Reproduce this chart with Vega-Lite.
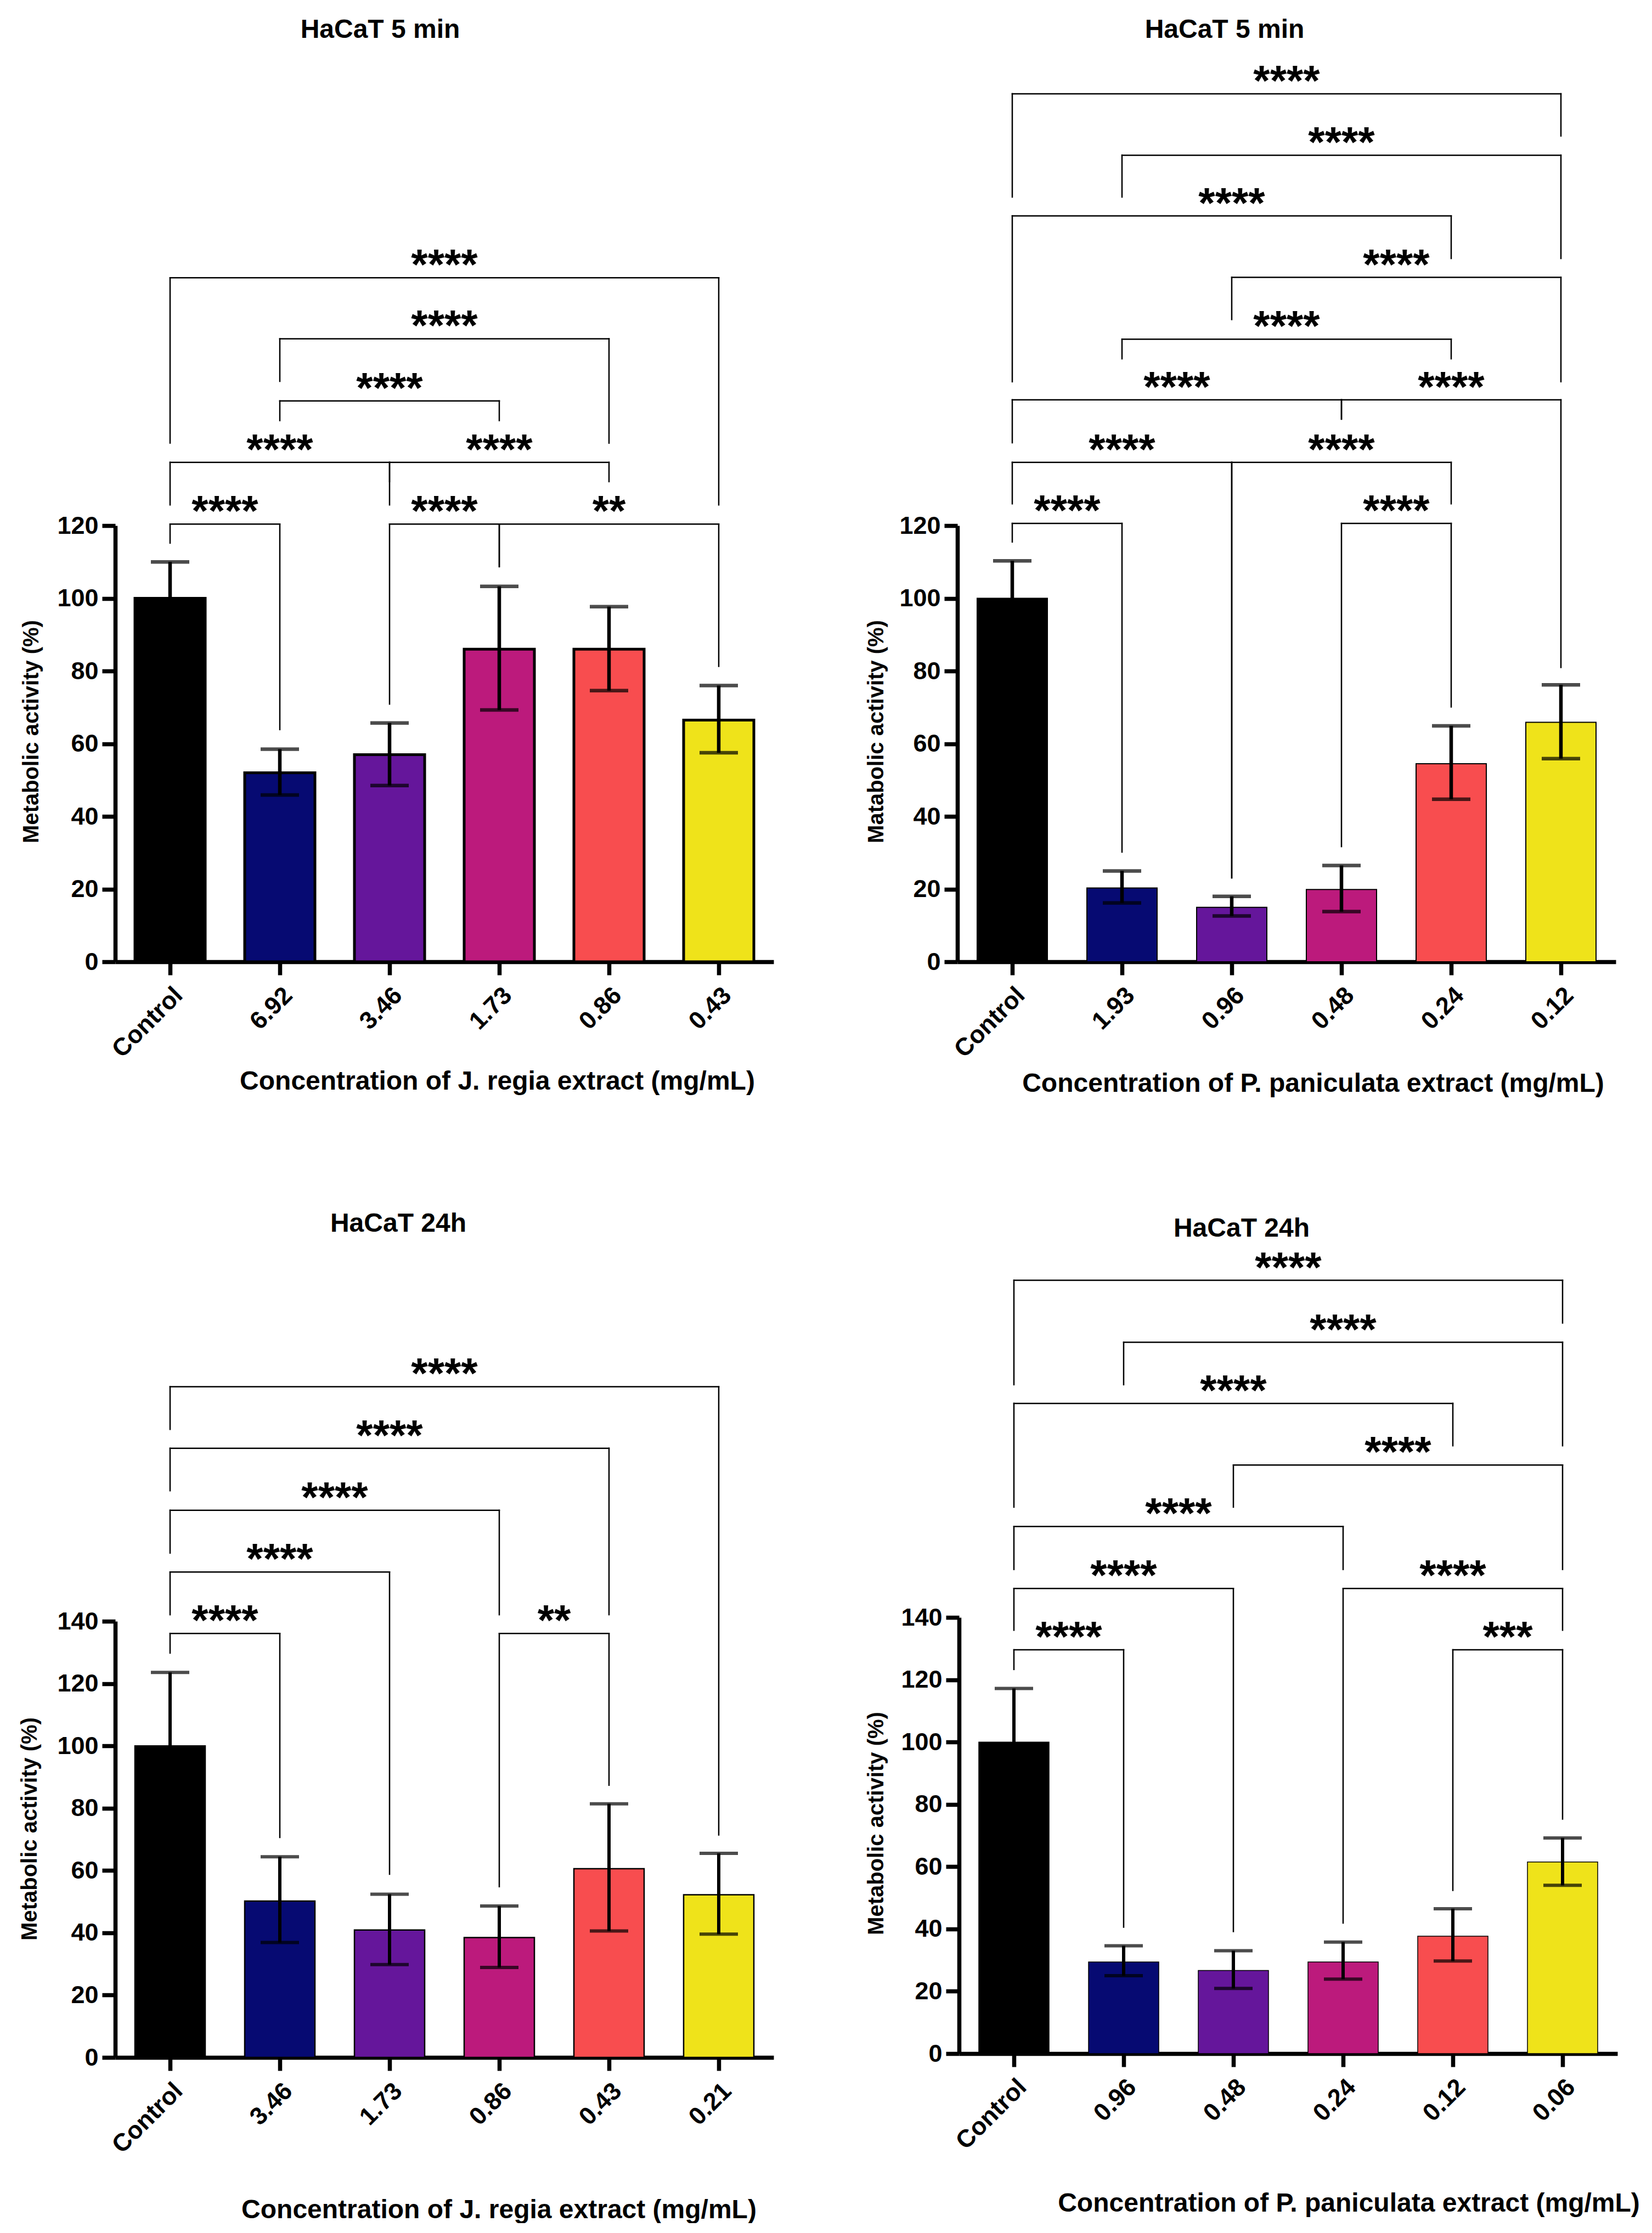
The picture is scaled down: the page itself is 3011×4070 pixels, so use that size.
{
"$schema": "https://vega.github.io/schema/vega-lite/v6.json",
"background": "white",
"padding": {"left": 34, "top": 31, "right": 0, "bottom": 0},
"spacing": 208,
"resolve": {"scale": {"color": "independent"}},
"datasets": {
"barsA": [
{"cat":"Control","mean":100,"lo":90,"hi":110},
{"cat":"6.92","mean":52,"lo":45.9,"hi":58.5},
{"cat":"3.46","mean":57,"lo":48.5,"hi":65.7},
{"cat":"1.73","mean":86,"lo":69.3,"hi":103.3},
{"cat":"0.86","mean":86,"lo":74.6,"hi":97.7},
{"cat":"0.43","mean":66.5,"lo":57.5,"hi":76}],
"brA": [
{"a":"Control","b":"0.43","mid":2.5,"lev":188.2,"aEnd":142.7,"bEnd":125.7,"lab":"****"},
{"a":"6.92","b":"0.86","mid":2.5,"lev":171.4,"aEnd":159.7,"bEnd":142.7,"lab":"****"},
{"a":"6.92","b":"1.73","mid":2,"lev":154.3,"aEnd":148.9,"bEnd":148.9,"lab":"****"},
{"a":"Control","b":"3.46","mid":1,"lev":137.4,"aEnd":125.7,"bEnd":125.7,"lab":"****"},
{"a":"3.46","b":"0.86","mid":3,"lev":137.4,"aEnd":132.1,"bEnd":132.1,"lab":"****"},
{"a":"Control","b":"6.92","mid":0.5,"lev":120.4,"aEnd":115.2,"bEnd":63.9,"lab":"****"},
{"a":"3.46","b":"1.73","mid":2.5,"lev":120.4,"aEnd":70.9,"bEnd":108.7,"lab":"****"},
{"a":"1.73","b":"0.43","mid":4,"lev":120.4,"aEnd":108.7,"bEnd":81.3,"lab":"**"}],
"barsB": [
{"cat":"Control","mean":100,"lo":89.7,"hi":110.3},
{"cat":"1.93","mean":20.3,"lo":16.2,"hi":25},
{"cat":"0.96","mean":15,"lo":12.6,"hi":18},
{"cat":"0.48","mean":19.9,"lo":13.8,"hi":26.5},
{"cat":"0.24","mean":54.5,"lo":44.7,"hi":64.9},
{"cat":"0.12","mean":65.9,"lo":55.9,"hi":76.2}],
"brB": [
{"a":"Control","b":"0.12","mid":2.5,"lev":238.8,"aEnd":210.4,"bEnd":227.2,"lab":"****"},
{"a":"1.93","b":"0.12","mid":3,"lev":221.9,"aEnd":210.4,"bEnd":193.5,"lab":"****"},
{"a":"Control","b":"0.24","mid":2,"lev":205.2,"aEnd":159.6,"bEnd":193.5,"lab":"****"},
{"a":"0.96","b":"0.12","mid":3.5,"lev":188.3,"aEnd":176.7,"bEnd":159.6,"lab":"****"},
{"a":"1.93","b":"0.24","mid":2.5,"lev":171.3,"aEnd":165.9,"bEnd":165.9,"lab":"****"},
{"a":"Control","b":"0.48","mid":1.5,"lev":154.6,"aEnd":142.8,"bEnd":149.3,"lab":"****"},
{"a":"0.48","b":"0.12","mid":4,"lev":154.6,"aEnd":149.3,"bEnd":81,"lab":"****"},
{"a":"Control","b":"0.96","mid":1,"lev":137.4,"aEnd":126,"bEnd":23.1,"lab":"****"},
{"a":"0.96","b":"0.24","mid":3,"lev":137.4,"aEnd":23.1,"bEnd":126,"lab":"****"},
{"a":"Control","b":"1.93","mid":0.5,"lev":120.6,"aEnd":115.5,"bEnd":30.2,"lab":"****"},
{"a":"0.48","b":"0.24","mid":3.5,"lev":120.6,"aEnd":31.7,"bEnd":70.1,"lab":"****"}],
"barsC": [
{"cat":"Control","mean":100,"lo":76.4,"hi":123.6},
{"cat":"3.46","mean":50.2,"lo":36.9,"hi":64.4},
{"cat":"1.73","mean":40.9,"lo":29.8,"hi":52.4},
{"cat":"0.86","mean":38.5,"lo":28.9,"hi":48.6},
{"cat":"0.43","mean":60.6,"lo":40.6,"hi":81.4},
{"cat":"0.21","mean":52.2,"lo":39.6,"hi":65.5}],
"brC": [
{"a":"Control","b":"0.21","mid":2.5,"lev":215.3,"aEnd":201.6,"bEnd":71.4,"lab":"****"},
{"a":"Control","b":"0.43","mid":2,"lev":195.5,"aEnd":181.9,"bEnd":142.1,"lab":"****"},
{"a":"Control","b":"0.86","mid":1.5,"lev":175.6,"aEnd":161.9,"bEnd":142.1,"lab":"****"},
{"a":"Control","b":"1.73","mid":1,"lev":155.8,"aEnd":142.1,"bEnd":58.8,"lab":"****"},
{"a":"Control","b":"3.46","mid":0.5,"lev":136.1,"aEnd":129.8,"bEnd":70.6,"lab":"****"},
{"a":"0.86","b":"0.43","mid":3.5,"lev":136.1,"aEnd":54.8,"bEnd":87.4,"lab":"**"}],
"barsD": [
{"cat":"Control","mean":100,"lo":82.8,"hi":117.2},
{"cat":"0.96","mean":29.4,"lo":25,"hi":34.6},
{"cat":"0.48","mean":26.7,"lo":20.9,"hi":33},
{"cat":"0.24","mean":29.4,"lo":23.9,"hi":35.8},
{"cat":"0.12","mean":37.7,"lo":29.7,"hi":46.5},
{"cat":"0.06","mean":61.5,"lo":54,"hi":69.2}],
"brD": [
{"a":"Control","b":"0.06","mid":2.5,"lev":248.2,"aEnd":214.7,"bEnd":234.5,"lab":"****"},
{"a":"0.96","b":"0.06","mid":3,"lev":228.3,"aEnd":214.7,"bEnd":195.1,"lab":"****"},
{"a":"Control","b":"0.12","mid":2,"lev":208.7,"aEnd":175.4,"bEnd":195.1,"lab":"****"},
{"a":"0.48","b":"0.06","mid":3.5,"lev":188.9,"aEnd":175.4,"bEnd":155.4,"lab":"****"},
{"a":"Control","b":"0.24","mid":1.5,"lev":169.2,"aEnd":155.4,"bEnd":155.4,"lab":"****"},
{"a":"Control","b":"0.48","mid":1,"lev":149.3,"aEnd":135.9,"bEnd":39.2,"lab":"****"},
{"a":"0.24","b":"0.06","mid":4,"lev":149.3,"aEnd":41.9,"bEnd":135.9,"lab":"****"},
{"a":"Control","b":"0.96","mid":0.5,"lev":129.6,"aEnd":123.3,"bEnd":40.6,"lab":"****"},
{"a":"0.12","b":"0.06","mid":4.5,"lev":129.6,"aEnd":52.4,"bEnd":75.3,"lab":"***"}]
},
"vconcat": [
{"spacing": 167, "resolve": {"scale": {"color": "independent"}}, "hconcat": [
{
"width": 1200, "height": 1652,
"title": {"text": "HaCaT   5 min", "offset": -2, "dx": -117, "frame": "group", "anchor": "middle", "baseline": "middle"},
"resolve": {"scale": {"x": "independent"}},
"layer": [
{"layer": [
{"data": {"name": "barsA"}, "mark": {"type": "bar", "stroke": "black", "strokeWidth": 5},
"encoding": {
"x": {"field": "cat", "type": "nominal", "scale": {"domain": ["Control","6.92","3.46","1.73","0.86","0.43"], "paddingInner": 0.36, "paddingOuter": 0.18},
"axis": {"title": "Concentration of J. regia extract (mg/mL)", "labelAngle": -45, "labelPadding": 14, "labelOverlap": false, "titleX": 696, "titleY": 232, "titleBaseline": "alphabetic", "titleFontSize": 48}},
"y": {"field": "mean", "type": "quantitative", "scale": {"domain": [0,120], "range": [1652,857], "nice": false},
"axis": {"title": "Metabolic activity (%)", "values": [0,20,40,60,80,100,120], "labelPadding": 7, "titleX": -153, "titleY": 1232, "titleBaseline": "middle", "titleAngle": -90, "titleFontSize": 40}},
"color": {"field": "cat", "type": "nominal", "scale": {"domain": ["Control","6.92","3.46","1.73","0.86","0.43"], "range": ["#000000","#060A72","#65169B","#BC1A7C","#F84D4F","#EFE31A"]}, "legend": null}}},
{"data": {"name": "barsA"}, "mark": {"type": "rule", "color": "black", "strokeWidth": 6.5},
"encoding": {"x": {"field": "cat", "type": "nominal", "title": "Concentration of J. regia extract (mg/mL)"},
"y": {"field": "lo", "type": "quantitative", "title": "Metabolic activity (%)"}, "y2": {"field": "hi"}}},
{"data": {"name": "barsA"}, "mark": {"type": "tick", "color": "black", "thickness": 6.5, "size": 70},
"encoding": {"x": {"field": "cat", "type": "nominal", "title": "Concentration of J. regia extract (mg/mL)"},
"y": {"field": "hi", "type": "quantitative", "title": "Metabolic activity (%)"}}},
{"data": {"name": "barsA"}, "mark": {"type": "tick", "color": "black", "thickness": 6.5, "size": 70},
"encoding": {"x": {"field": "cat", "type": "nominal", "title": "Concentration of J. regia extract (mg/mL)"},
"y": {"field": "lo", "type": "quantitative", "title": "Metabolic activity (%)"}}},
{"data": {"name": "brA"}, "mark": {"type": "rule", "color": "black", "strokeWidth": 2.5, "strokeCap": "square"},
"encoding": {"x": {"field": "a", "type": "nominal", "title": "Concentration of J. regia extract (mg/mL)"}, "x2": {"field": "b"},
"y": {"field": "lev", "type": "quantitative", "title": "Metabolic activity (%)"}}},
{"data": {"name": "brA"}, "mark": {"type": "rule", "color": "black", "strokeWidth": 2.5, "strokeCap": "square"},
"encoding": {"x": {"field": "a", "type": "nominal", "title": "Concentration of J. regia extract (mg/mL)"},
"y": {"field": "lev", "type": "quantitative", "title": "Metabolic activity (%)"}, "y2": {"field": "aEnd"}}},
{"data": {"name": "brA"}, "mark": {"type": "rule", "color": "black", "strokeWidth": 2.5, "strokeCap": "square"},
"encoding": {"x": {"field": "b", "type": "nominal", "title": "Concentration of J. regia extract (mg/mL)"},
"y": {"field": "lev", "type": "quantitative", "title": "Metabolic activity (%)"}, "y2": {"field": "bEnd"}}}
]},
{"data": {"name": "brA"}, "mark": {"type": "text", "color": "black", "fontSize": 78, "fontWeight": "bold", "font": "Liberation Sans", "baseline": "alphabetic", "align": "center", "dy": 3},
"encoding": {"x": {"field": "mid", "type": "quantitative", "scale": {"domain": [-0.5, 5.5], "nice": false, "zero": false}, "axis": null},
"y": {"field": "lev", "type": "quantitative", "title": "Metabolic activity (%)"}, "text": {"field": "lab"}}}
]
},
{
"width": 1200, "height": 1652,
"title": {"text": "HaCaT   5 min", "offset": -2, "dx": -113, "frame": "group", "anchor": "middle", "baseline": "middle"},
"resolve": {"scale": {"x": "independent"}},
"layer": [
{"layer": [
{"data": {"name": "barsB"}, "mark": {"type": "bar", "stroke": "black", "strokeWidth": 2},
"encoding": {
"x": {"field": "cat", "type": "nominal", "scale": {"domain": ["Control","1.93","0.96","0.48","0.24","0.12"], "paddingInner": 0.36, "paddingOuter": 0.18},
"axis": {"title": "Concentration of P. paniculata extract (mg/mL)", "labelAngle": -45, "labelPadding": 14, "labelOverlap": false, "titleX": 648, "titleY": 236, "titleBaseline": "alphabetic", "titleFontSize": 48}},
"y": {"field": "mean", "type": "quantitative", "scale": {"domain": [0,120], "range": [1652,857], "nice": false},
"axis": {"title": "Matabolic activity (%)", "values": [0,20,40,60,80,100,120], "labelPadding": 7, "titleX": -148, "titleY": 1232, "titleBaseline": "middle", "titleAngle": -90, "titleFontSize": 40}},
"color": {"field": "cat", "type": "nominal", "scale": {"domain": ["Control","1.93","0.96","0.48","0.24","0.12"], "range": ["#000000","#060A72","#65169B","#BC1A7C","#F84D4F","#EFE31A"]}, "legend": null}}},
{"data": {"name": "barsB"}, "mark": {"type": "rule", "color": "black", "strokeWidth": 6.5},
"encoding": {"x": {"field": "cat", "type": "nominal", "title": "Concentration of P. paniculata extract (mg/mL)"},
"y": {"field": "lo", "type": "quantitative", "title": "Matabolic activity (%)"}, "y2": {"field": "hi"}}},
{"data": {"name": "barsB"}, "mark": {"type": "tick", "color": "black", "thickness": 6.5, "size": 70},
"encoding": {"x": {"field": "cat", "type": "nominal", "title": "Concentration of P. paniculata extract (mg/mL)"},
"y": {"field": "hi", "type": "quantitative", "title": "Matabolic activity (%)"}}},
{"data": {"name": "barsB"}, "mark": {"type": "tick", "color": "black", "thickness": 6.5, "size": 70},
"encoding": {"x": {"field": "cat", "type": "nominal", "title": "Concentration of P. paniculata extract (mg/mL)"},
"y": {"field": "lo", "type": "quantitative", "title": "Matabolic activity (%)"}}},
{"data": {"name": "brB"}, "mark": {"type": "rule", "color": "black", "strokeWidth": 2.5, "strokeCap": "square"},
"encoding": {"x": {"field": "a", "type": "nominal", "title": "Concentration of P. paniculata extract (mg/mL)"}, "x2": {"field": "b"},
"y": {"field": "lev", "type": "quantitative", "title": "Matabolic activity (%)"}}},
{"data": {"name": "brB"}, "mark": {"type": "rule", "color": "black", "strokeWidth": 2.5, "strokeCap": "square"},
"encoding": {"x": {"field": "a", "type": "nominal", "title": "Concentration of P. paniculata extract (mg/mL)"},
"y": {"field": "lev", "type": "quantitative", "title": "Matabolic activity (%)"}, "y2": {"field": "aEnd"}}},
{"data": {"name": "brB"}, "mark": {"type": "rule", "color": "black", "strokeWidth": 2.5, "strokeCap": "square"},
"encoding": {"x": {"field": "b", "type": "nominal", "title": "Concentration of P. paniculata extract (mg/mL)"},
"y": {"field": "lev", "type": "quantitative", "title": "Matabolic activity (%)"}, "y2": {"field": "bEnd"}}}
]},
{"data": {"name": "brB"}, "mark": {"type": "text", "color": "black", "fontSize": 78, "fontWeight": "bold", "font": "Liberation Sans", "baseline": "alphabetic", "align": "center", "dy": 3},
"encoding": {"x": {"field": "mid", "type": "quantitative", "scale": {"domain": [-0.5, 5.5], "nice": false, "zero": false}, "axis": null},
"y": {"field": "lev", "type": "quantitative", "title": "Matabolic activity (%)"}, "text": {"field": "lab"}}}
]
}
]},
{"spacing": 167, "resolve": {"scale": {"color": "independent"}}, "hconcat": [
{
"width": 1200, "height": 1486,
"title": {"text": "HaCaT   24h", "offset": -15, "dx": -84, "frame": "group", "anchor": "middle", "baseline": "middle"},
"resolve": {"scale": {"x": "independent"}},
"layer": [
{"layer": [
{"data": {"name": "barsC"}, "mark": {"type": "bar", "stroke": "black", "strokeWidth": 2.5},
"encoding": {
"x": {"field": "cat", "type": "nominal", "scale": {"domain": ["Control","3.46","1.73","0.86","0.43","0.21"], "paddingInner": 0.36, "paddingOuter": 0.18},
"axis": {"title": "Concentration of J. regia extract (mg/mL)", "labelAngle": -45, "labelPadding": 14, "labelOverlap": false, "titleX": 699, "titleY": 292, "titleBaseline": "alphabetic", "titleFontSize": 48}},
"y": {"field": "mean", "type": "quantitative", "scale": {"domain": [0,140], "range": [1486,691], "nice": false},
"axis": {"title": "Metabolic activity (%)", "values": [0,20,40,60,80,100,120,140], "labelPadding": 7, "titleX": -156, "titleY": 1069, "titleBaseline": "middle", "titleAngle": -90, "titleFontSize": 40}},
"color": {"field": "cat", "type": "nominal", "scale": {"domain": ["Control","3.46","1.73","0.86","0.43","0.21"], "range": ["#000000","#060A72","#65169B","#BC1A7C","#F84D4F","#EFE31A"]}, "legend": null}}},
{"data": {"name": "barsC"}, "mark": {"type": "rule", "color": "black", "strokeWidth": 6},
"encoding": {"x": {"field": "cat", "type": "nominal", "title": "Concentration of J. regia extract (mg/mL)"},
"y": {"field": "lo", "type": "quantitative", "title": "Metabolic activity (%)"}, "y2": {"field": "hi"}}},
{"data": {"name": "barsC"}, "mark": {"type": "tick", "color": "black", "thickness": 6, "size": 70},
"encoding": {"x": {"field": "cat", "type": "nominal", "title": "Concentration of J. regia extract (mg/mL)"},
"y": {"field": "hi", "type": "quantitative", "title": "Metabolic activity (%)"}}},
{"data": {"name": "barsC"}, "mark": {"type": "tick", "color": "black", "thickness": 6, "size": 70},
"encoding": {"x": {"field": "cat", "type": "nominal", "title": "Concentration of J. regia extract (mg/mL)"},
"y": {"field": "lo", "type": "quantitative", "title": "Metabolic activity (%)"}}},
{"data": {"name": "brC"}, "mark": {"type": "rule", "color": "black", "strokeWidth": 2.5, "strokeCap": "square"},
"encoding": {"x": {"field": "a", "type": "nominal", "title": "Concentration of J. regia extract (mg/mL)"}, "x2": {"field": "b"},
"y": {"field": "lev", "type": "quantitative", "title": "Metabolic activity (%)"}}},
{"data": {"name": "brC"}, "mark": {"type": "rule", "color": "black", "strokeWidth": 2.5, "strokeCap": "square"},
"encoding": {"x": {"field": "a", "type": "nominal", "title": "Concentration of J. regia extract (mg/mL)"},
"y": {"field": "lev", "type": "quantitative", "title": "Metabolic activity (%)"}, "y2": {"field": "aEnd"}}},
{"data": {"name": "brC"}, "mark": {"type": "rule", "color": "black", "strokeWidth": 2.5, "strokeCap": "square"},
"encoding": {"x": {"field": "b", "type": "nominal", "title": "Concentration of J. regia extract (mg/mL)"},
"y": {"field": "lev", "type": "quantitative", "title": "Metabolic activity (%)"}, "y2": {"field": "bEnd"}}}
]},
{"data": {"name": "brC"}, "mark": {"type": "text", "color": "black", "fontSize": 78, "fontWeight": "bold", "font": "Liberation Sans", "baseline": "alphabetic", "align": "center", "dy": 3},
"encoding": {"x": {"field": "mid", "type": "quantitative", "scale": {"domain": [-0.5, 5.5], "nice": false, "zero": false}, "axis": null},
"y": {"field": "lev", "type": "quantitative", "title": "Metabolic activity (%)"}, "text": {"field": "lab"}}}
]
},
{
"width": 1200, "height": 1479,
"title": {"text": "HaCaT   24h", "offset": -24, "dx": -85, "frame": "group", "anchor": "middle", "baseline": "middle"},
"resolve": {"scale": {"x": "independent"}},
"layer": [
{"layer": [
{"data": {"name": "barsD"}, "mark": {"type": "bar", "stroke": "black", "strokeWidth": 1.5},
"encoding": {
"x": {"field": "cat", "type": "nominal", "scale": {"domain": ["Control","0.96","0.48","0.24","0.12","0.06"], "paddingInner": 0.36, "paddingOuter": 0.18},
"axis": {"title": "Concentration of P. paniculata extract (mg/mL)", "labelAngle": -45, "labelPadding": 14, "labelOverlap": false, "titleX": 710, "titleY": 287, "titleBaseline": "alphabetic", "titleFontSize": 48}},
"y": {"field": "mean", "type": "quantitative", "scale": {"domain": [0,140], "range": [1479,684], "nice": false},
"axis": {"title": "Metabolic activity (%)", "values": [0,20,40,60,80,100,120,140], "labelPadding": 7, "titleX": -151, "titleY": 1059, "titleBaseline": "middle", "titleAngle": -90, "titleFontSize": 40}},
"color": {"field": "cat", "type": "nominal", "scale": {"domain": ["Control","0.96","0.48","0.24","0.12","0.06"], "range": ["#000000","#060A72","#65169B","#BC1A7C","#F84D4F","#EFE31A"]}, "legend": null}}},
{"data": {"name": "barsD"}, "mark": {"type": "rule", "color": "black", "strokeWidth": 6},
"encoding": {"x": {"field": "cat", "type": "nominal", "title": "Concentration of P. paniculata extract (mg/mL)"},
"y": {"field": "lo", "type": "quantitative", "title": "Metabolic activity (%)"}, "y2": {"field": "hi"}}},
{"data": {"name": "barsD"}, "mark": {"type": "tick", "color": "black", "thickness": 6, "size": 70},
"encoding": {"x": {"field": "cat", "type": "nominal", "title": "Concentration of P. paniculata extract (mg/mL)"},
"y": {"field": "hi", "type": "quantitative", "title": "Metabolic activity (%)"}}},
{"data": {"name": "barsD"}, "mark": {"type": "tick", "color": "black", "thickness": 6, "size": 70},
"encoding": {"x": {"field": "cat", "type": "nominal", "title": "Concentration of P. paniculata extract (mg/mL)"},
"y": {"field": "lo", "type": "quantitative", "title": "Metabolic activity (%)"}}},
{"data": {"name": "brD"}, "mark": {"type": "rule", "color": "black", "strokeWidth": 2.5, "strokeCap": "square"},
"encoding": {"x": {"field": "a", "type": "nominal", "title": "Concentration of P. paniculata extract (mg/mL)"}, "x2": {"field": "b"},
"y": {"field": "lev", "type": "quantitative", "title": "Metabolic activity (%)"}}},
{"data": {"name": "brD"}, "mark": {"type": "rule", "color": "black", "strokeWidth": 2.5, "strokeCap": "square"},
"encoding": {"x": {"field": "a", "type": "nominal", "title": "Concentration of P. paniculata extract (mg/mL)"},
"y": {"field": "lev", "type": "quantitative", "title": "Metabolic activity (%)"}, "y2": {"field": "aEnd"}}},
{"data": {"name": "brD"}, "mark": {"type": "rule", "color": "black", "strokeWidth": 2.5, "strokeCap": "square"},
"encoding": {"x": {"field": "b", "type": "nominal", "title": "Concentration of P. paniculata extract (mg/mL)"},
"y": {"field": "lev", "type": "quantitative", "title": "Metabolic activity (%)"}, "y2": {"field": "bEnd"}}}
]},
{"data": {"name": "brD"}, "mark": {"type": "text", "color": "black", "fontSize": 78, "fontWeight": "bold", "font": "Liberation Sans", "baseline": "alphabetic", "align": "center", "dy": 3},
"encoding": {"x": {"field": "mid", "type": "quantitative", "scale": {"domain": [-0.5, 5.5], "nice": false, "zero": false}, "axis": null},
"y": {"field": "lev", "type": "quantitative", "title": "Metabolic activity (%)"}, "text": {"field": "lab"}}}
]
}
]}
],
"config": {
"view": {"stroke": null},
"font": "Liberation Sans",
"axis": {"domainColor": "black", "domainWidth": 7.5, "tickColor": "black", "tickWidth": 7.5, "tickSize": 24, "labelFont": "Liberation Sans", "labelFontWeight": "bold", "labelFontSize": 45, "labelColor": "black", "titleFont": "Liberation Sans", "titleFontWeight": "bold", "titleColor": "black", "grid": false},
"title": {"font": "Liberation Sans", "fontWeight": "bold", "fontSize": 48, "color": "black"}
}
}
